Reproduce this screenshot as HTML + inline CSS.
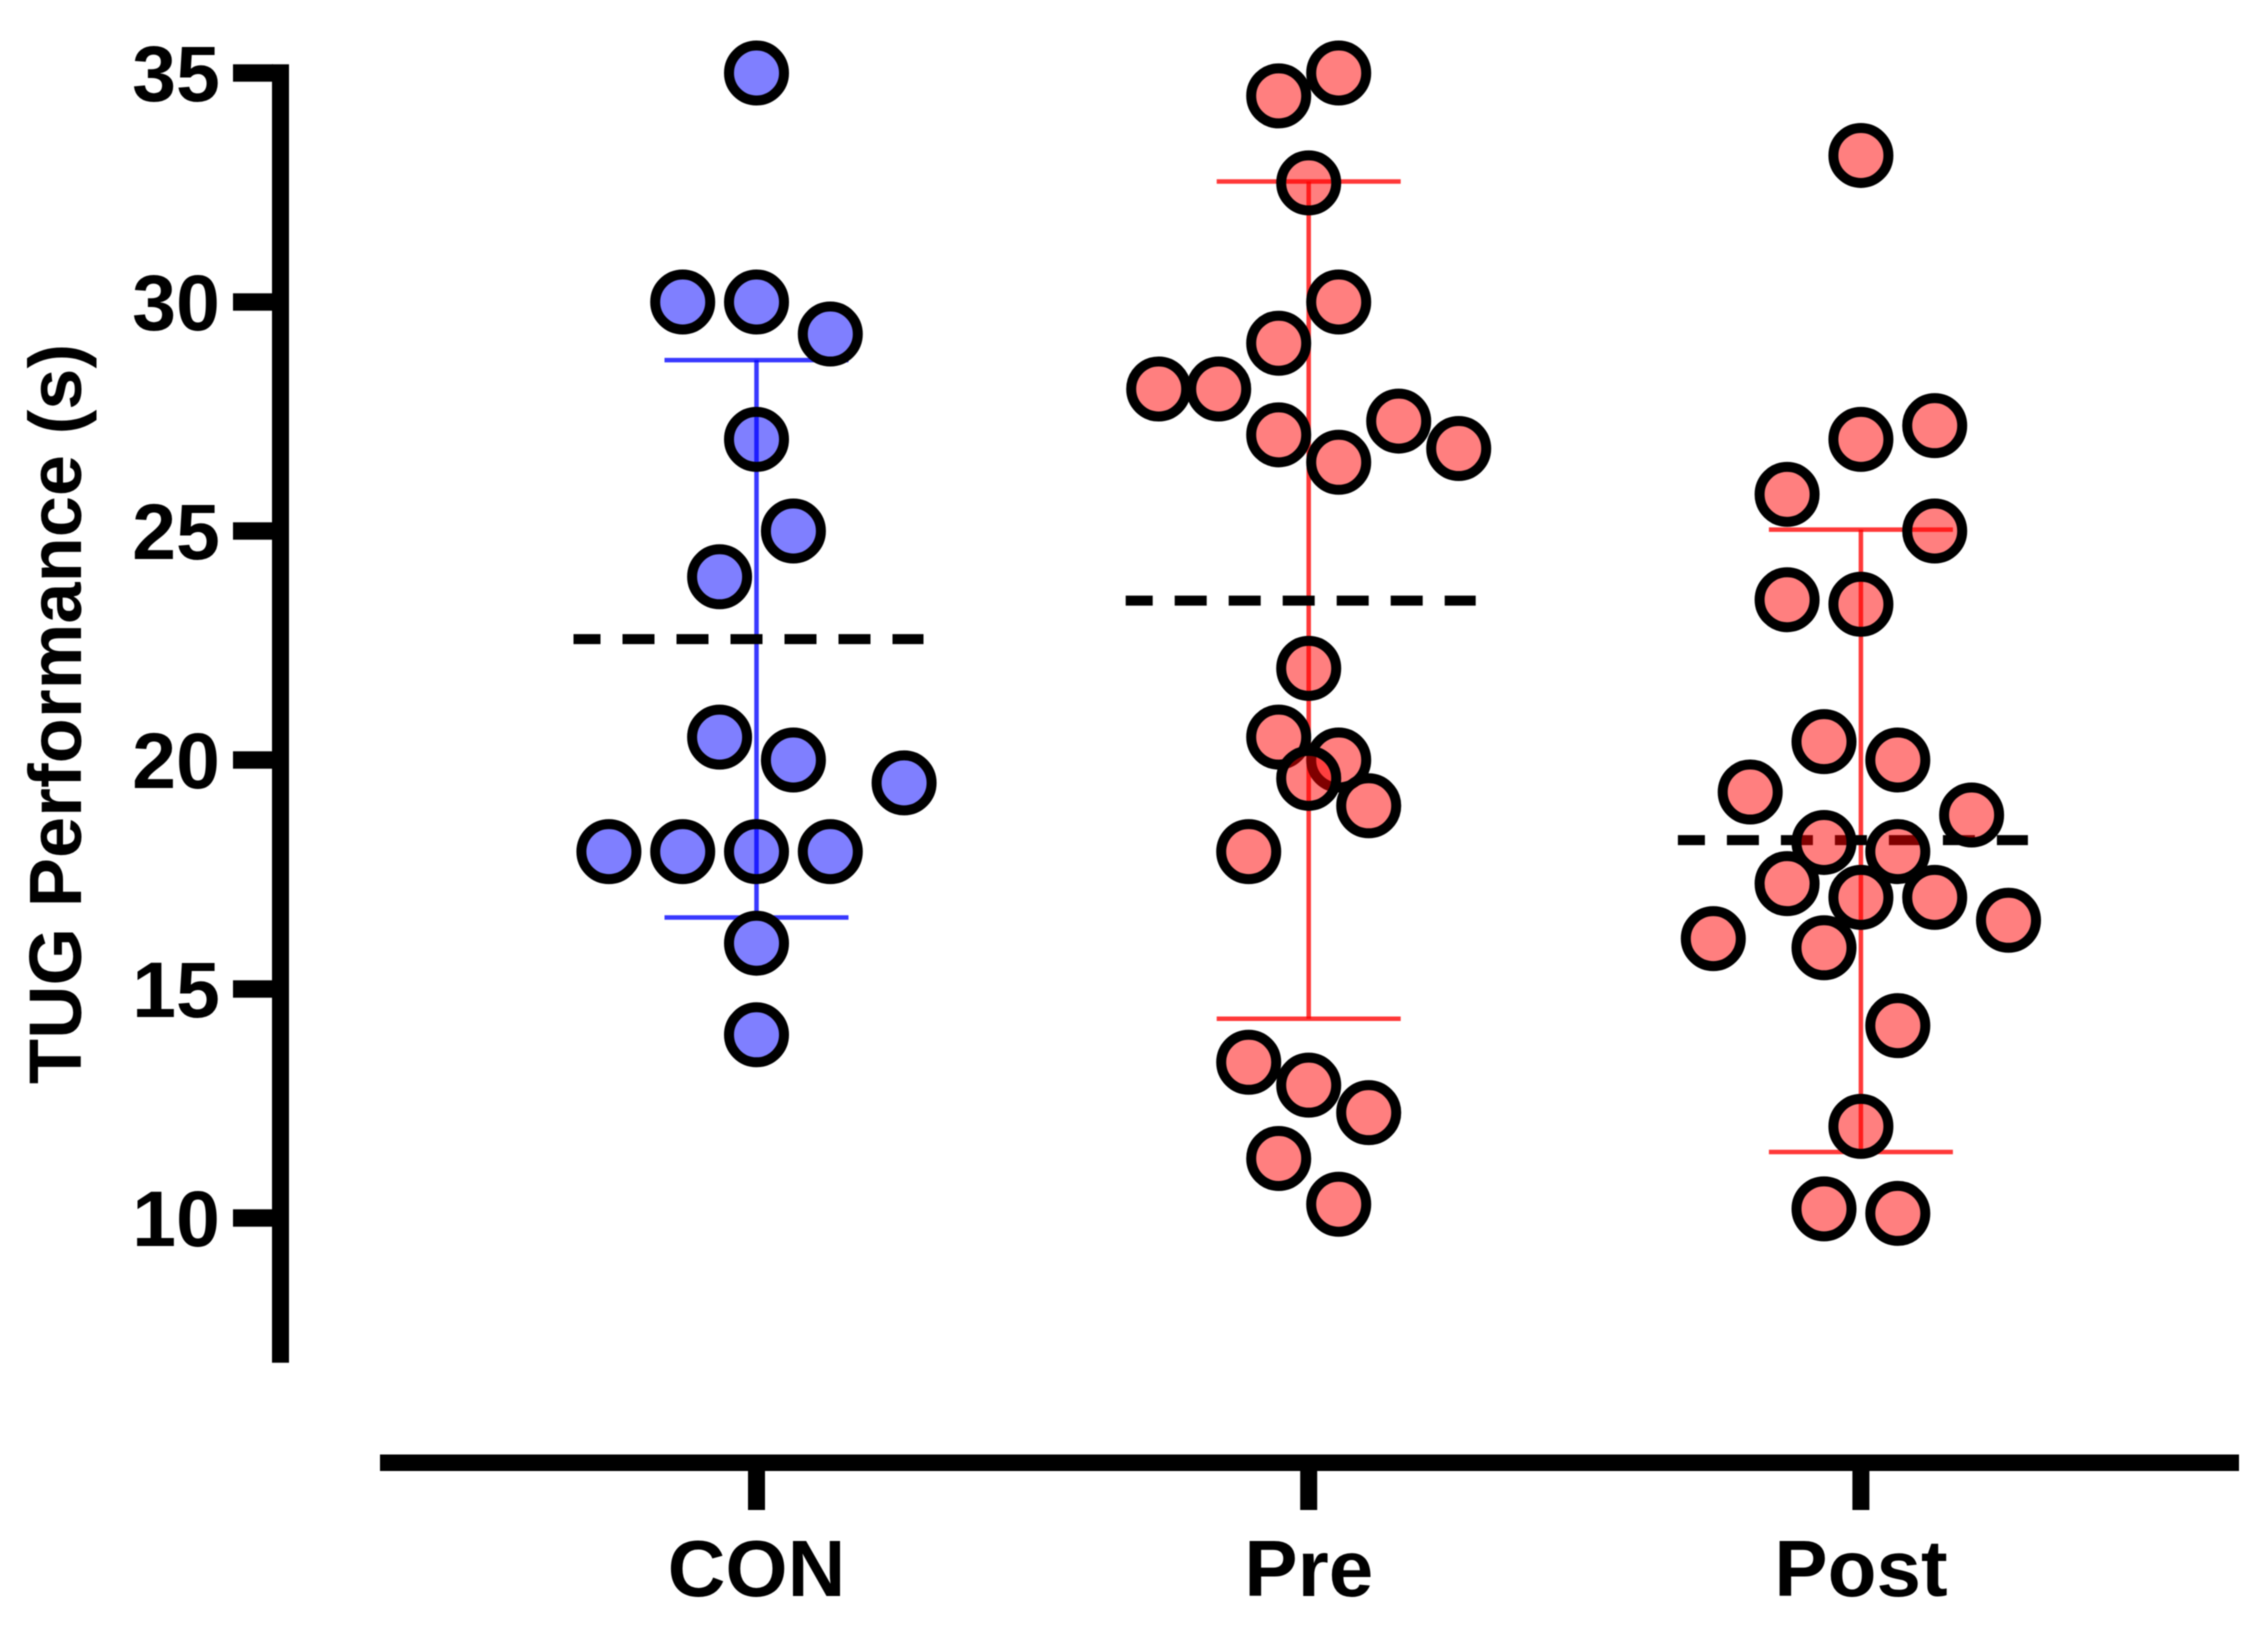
<!DOCTYPE html>
<html lang="en">
<head>
<meta charset="utf-8">
<title>TUG Performance</title>
<style>
html,body{margin:0;padding:0;background:#fff;}
svg{display:block;filter:blur(0.6px);}
text{font-family:"Liberation Sans",Arial,sans-serif;font-weight:bold;fill:#000;}
</style>
</head>
<body>
<svg id="chart" xmlns="http://www.w3.org/2000/svg" width="2265" height="1630" viewBox="0 0 2265 1630">
<rect x="0" y="0" width="2265" height="1630" fill="#ffffff"/>
<text id="ytitle" transform="translate(81,714) rotate(-90)" text-anchor="middle" font-size="74">TUG Performance (s)</text>
</svg>
<script>
const categories = ['CON', 'Pre', 'Post'];
const yTicks = [10, 15, 20, 25, 30, 35];
const means = [22.64, 23.48, 18.25];
const upperBars = [28.73, 32.63, 25.03];
const lowerBars = [16.56, 14.35, 11.44];

const conValues = [35, 30, 30, 29.3, 27, 25, 24, 20.5, 20, 19.5, 18, 18, 18, 18, 16, 14];
const conColumns = [0, -2, 0, 2, 0, 1, -1, -1, 1, 4, -4, -2, 0, 2, 0, 0];

const preValues = [35, 34.5, 32.6, 30, 29.1, 28.1, 28.1, 27.4, 27.1, 26.8, 26.5, 22, 20.5, 20, 19.6, 19, 18, 13.4, 12.9, 12.3, 11.3, 10.3];
const preColumns = [1, -1, 0, 1, -1, -5, -3, 3, -1, 5, 1, 0, -1, 1, 0, 2, -2, -2, 0, 2, -1, 1];

const postValues = [33.2, 27.3, 27, 25.8, 25, 23.5, 23.4, 20.4, 20, 19.3, 18.8, 18.2, 18, 17.3, 17, 17, 16.5, 16.1, 15.9, 14.2, 12, 10.2, 10.1];
const postColumns = [0, 2, 0, -2, 2, -2, 0, -1, 1, -3, 3, -1, 1, -2, 0, 2, 4, -4, -1, 1, 0, -1, 1];

const NS = 'http://www.w3.org/2000/svg';
const svg = document.getElementById('chart');
const yScale = v => 73 + (35 - v) * 45.8;
const xScale = i => 756.5 + i * 552.2;
const columnWidth = [36.9, 30, 36.9];
const lineColor = ['rgba(0,0,255,0.78)', 'rgba(255,0,0,0.78)', 'rgba(255,0,0,0.78)'];
const pointFill = ['rgba(0,0,255,0.5)', 'rgba(255,0,0,0.5)', 'rgba(255,0,0,0.5)'];
const groupValues = [conValues, preValues, postValues];
const groupColumns = [conColumns, preColumns, postColumns];

function make(tag, attrs, parent) {
  const el = document.createElementNS(NS, tag);
  for (const k in attrs) el.setAttribute(k, attrs[k]);
  (parent || svg).appendChild(el);
  return el;
}

// y axis
const yAxis = make('rect', {x: 272, y: 64.3, width: 17, height: yScale(6.84) - 64.3, fill: '#000'});


yTicks.forEach(t => {
  const tick = make('rect', {x: 233, y: yScale(t) - 8.7, width: 40, height: 17.4, fill: '#000'});
  
  
  const label = make('text', {x: 220, y: yScale(t) + 28, 'text-anchor': 'end', 'font-size': 79});
  
  
  label.textContent = t;
});

// x axis
const xAxis = make('rect', {x: 380, y: 1454.5, width: 1859, height: 16.5, fill: '#000'});


categories.forEach((c, i) => {
  const tick = make('rect', {x: xScale(i) - 8.5, y: 1470, width: 17, height: 40, fill: '#000'});
  
  
  const label = make('text', {x: xScale(i), y: 1596, 'text-anchor': 'middle', 'font-size': 80});
  
  
  label.textContent = c;
});

// error bars and mean lines, then points
categories.forEach((c, i) => {
  const cx = xScale(i);
  const key = c.toLowerCase();
  const stem = make('line', {x1: cx, x2: cx, y1: yScale(upperBars[i]), y2: yScale(lowerBars[i]), stroke: lineColor[i], 'stroke-width': 4.5});
  
  
  const capTop = make('line', {x1: cx - 92, x2: cx + 92, y1: yScale(upperBars[i]), y2: yScale(upperBars[i]), stroke: lineColor[i], 'stroke-width': 4.5});
  
  
  const capBottom = make('line', {x1: cx - 92, x2: cx + 92, y1: yScale(lowerBars[i]), y2: yScale(lowerBars[i]), stroke: lineColor[i], 'stroke-width': 4.5});
  
  
  const mean = make('line', {x1: cx - 183, x2: cx + 167, y1: yScale(means[i]), y2: yScale(means[i]), stroke: '#000', 'stroke-width': 10, 'stroke-dasharray': '32 22', 'stroke-dashoffset': 5});
  
  
});

categories.forEach((c, i) => {
  const key = c.toLowerCase();
  groupValues[i].forEach((v, j) => {
    const pt = make('circle', {
      cx: xScale(i) + groupColumns[i][j] * columnWidth[i],
      cy: yScale(v),
      r: 27.5,
      fill: pointFill[i],
      stroke: '#000',
      'stroke-width': 10
    });
    
    
  });
});
</script>
</body>
</html>
